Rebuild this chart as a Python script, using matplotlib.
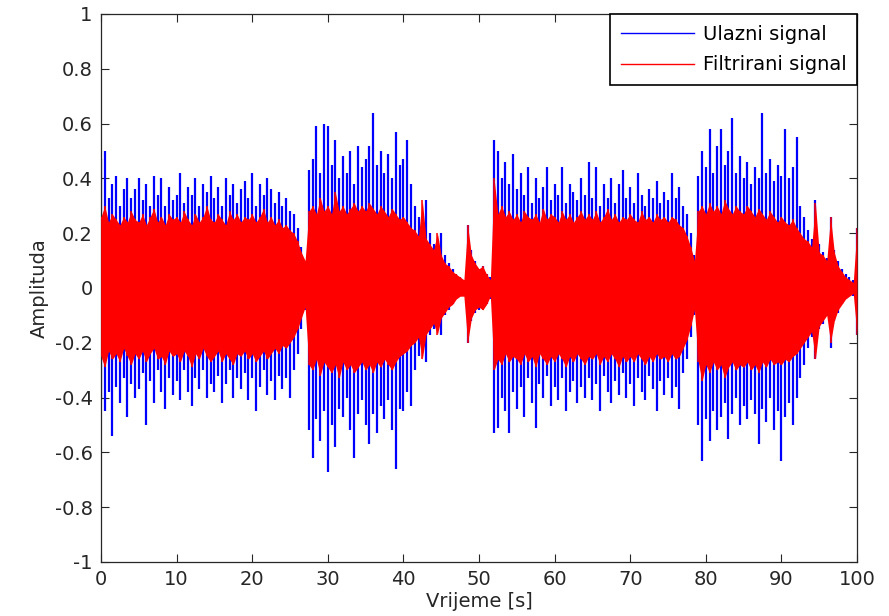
import numpy as np
import matplotlib
matplotlib.use('Agg')
import matplotlib.pyplot as plt
from matplotlib.lines import Line2D

# Time axis, one reading every 0.5 s (0 ... 100 s).
time_s = np.linspace(0, 100, 201)

# Input signal: peak values.
ulaz_max = [
    0.47, 0.50, 0.33, 0.38, 0.41, 0.30, 0.36, 0.40, 0.33, 0.36,
    0.40, 0.32, 0.38, 0.30, 0.41, 0.34, 0.40, 0.30, 0.37, 0.32,
    0.34, 0.42, 0.31, 0.37, 0.34, 0.40, 0.30, 0.38, 0.35, 0.41,
    0.33, 0.37, 0.30, 0.40, 0.34, 0.38, 0.31, 0.36, 0.39, 0.33,
    0.42, 0.30, 0.38, 0.34, 0.40, 0.36, 0.31, 0.35, 0.30, 0.33,
    0.28, 0.27, 0.22, 0.15, 0.10, 0.43, 0.47, 0.59, 0.42, 0.60,
    0.59, 0.45, 0.54, 0.40, 0.48, 0.42, 0.50, 0.38, 0.52, 0.44,
    0.47, 0.52, 0.64, 0.45, 0.50, 0.42, 0.49, 0.40, 0.57, 0.45,
    0.47, 0.54, 0.38, 0.30, 0.26, 0.22, 0.32, 0.20, 0.16, 0.13,
    0.20, 0.12, 0.09, 0.07, 0.05, 0.04, 0.03, 0.23, 0.14, 0.10,
    0.07, 0.08, 0.05, 0.04, 0.54, 0.50, 0.40, 0.46, 0.38, 0.49,
    0.36, 0.42, 0.34, 0.44, 0.31, 0.40, 0.33, 0.37, 0.44, 0.32,
    0.38, 0.34, 0.44, 0.31, 0.38, 0.35, 0.32, 0.40, 0.34, 0.46,
    0.33, 0.44, 0.30, 0.38, 0.33, 0.40, 0.31, 0.38, 0.43, 0.33,
    0.37, 0.31, 0.42, 0.34, 0.30, 0.36, 0.33, 0.39, 0.31, 0.35,
    0.32, 0.42, 0.33, 0.37, 0.30, 0.27, 0.20, 0.12, 0.41, 0.50,
    0.44, 0.58, 0.42, 0.52, 0.58, 0.45, 0.50, 0.62, 0.42, 0.48,
    0.40, 0.46, 0.38, 0.44, 0.40, 0.64, 0.42, 0.47, 0.39, 0.45,
    0.41, 0.58, 0.40, 0.44, 0.55, 0.30, 0.26, 0.21, 0.18, 0.32,
    0.16, 0.13, 0.11, 0.26, 0.14, 0.10, 0.07, 0.05, 0.04, 0.03,
    0.22,
]
ulaz_min = [
    -0.40, -0.45, -0.38, -0.54, -0.36, -0.42, -0.33, -0.47, -0.35, -0.40,
    -0.37, -0.31, -0.50, -0.34, -0.42, -0.30, -0.38, -0.44, -0.33, -0.39,
    -0.34, -0.41, -0.30, -0.38, -0.43, -0.33, -0.37, -0.30, -0.40, -0.35,
    -0.38, -0.32, -0.42, -0.35, -0.30, -0.40, -0.33, -0.37, -0.31, -0.41,
    -0.33, -0.45, -0.36, -0.30, -0.39, -0.34, -0.41, -0.32, -0.37, -0.33,
    -0.40, -0.30, -0.24, -0.15, -0.08, -0.52, -0.62, -0.48, -0.56, -0.45,
    -0.67, -0.50, -0.58, -0.44, -0.47, -0.40, -0.52, -0.62, -0.46, -0.41,
    -0.50, -0.57, -0.46, -0.53, -0.43, -0.48, -0.41, -0.52, -0.66, -0.44,
    -0.45, -0.38, -0.43, -0.30, -0.25, -0.20, -0.27, -0.17, -0.15, -0.12,
    -0.17, -0.10, -0.08, -0.06, -0.04, -0.03, -0.02, -0.20, -0.12, -0.09,
    -0.08, -0.07, -0.06, -0.04, -0.53, -0.51, -0.40, -0.45, -0.53, -0.38,
    -0.44, -0.36, -0.47, -0.33, -0.42, -0.51, -0.35, -0.40, -0.32, -0.43,
    -0.36, -0.41, -0.33, -0.45, -0.38, -0.34, -0.42, -0.36, -0.40, -0.33,
    -0.41, -0.35, -0.45, -0.32, -0.38, -0.42, -0.34, -0.39, -0.31, -0.40,
    -0.35, -0.43, -0.33, -0.38, -0.41, -0.32, -0.37, -0.45, -0.34, -0.39,
    -0.33, -0.40, -0.36, -0.44, -0.31, -0.26, -0.18, -0.10, -0.50, -0.63,
    -0.48, -0.56, -0.45, -0.52, -0.47, -0.42, -0.55, -0.46, -0.40, -0.50,
    -0.43, -0.48, -0.41, -0.46, -0.57, -0.44, -0.49, -0.40, -0.52, -0.45,
    -0.63, -0.47, -0.42, -0.50, -0.40, -0.33, -0.28, -0.22, -0.18, -0.26,
    -0.15, -0.13, -0.10, -0.22, -0.12, -0.09, -0.06, -0.04, -0.03, -0.03,
    -0.17,
]

# Filtered signal: envelope.
filt_max = [
    0.26, 0.30, 0.24, 0.27, 0.25, 0.23, 0.26, 0.24, 0.28, 0.25,
    0.24, 0.27, 0.23, 0.26, 0.29, 0.24, 0.26, 0.23, 0.27, 0.25,
    0.26, 0.24, 0.28, 0.25, 0.23, 0.27, 0.24, 0.26, 0.30, 0.25,
    0.24, 0.27, 0.25, 0.23, 0.28, 0.25, 0.27, 0.24, 0.26, 0.25,
    0.27, 0.24, 0.26, 0.29, 0.24, 0.26, 0.23, 0.25, 0.22, 0.23,
    0.21, 0.20, 0.17, 0.13, 0.10, 0.28, 0.30, 0.27, 0.33, 0.28,
    0.30, 0.27, 0.35, 0.28, 0.30, 0.27, 0.29, 0.31, 0.28, 0.30,
    0.28, 0.31, 0.29, 0.27, 0.30, 0.28, 0.26, 0.29, 0.27, 0.25,
    0.26, 0.24, 0.22, 0.21, 0.19, 0.32, 0.18, 0.16, 0.14, 0.20,
    0.12, 0.09, 0.08, 0.06, 0.05, 0.04, 0.03, 0.23, 0.12, 0.09,
    0.07, 0.08, 0.05, 0.03, 0.40, 0.27, 0.30, 0.26, 0.28, 0.25,
    0.27, 0.24, 0.28, 0.26, 0.25, 0.27, 0.24, 0.29, 0.25, 0.27,
    0.26, 0.24, 0.28, 0.25, 0.27, 0.24, 0.26, 0.28, 0.25, 0.27,
    0.25, 0.28, 0.24, 0.26, 0.29, 0.25, 0.27, 0.24, 0.26, 0.25,
    0.27, 0.25, 0.24, 0.28, 0.25, 0.26, 0.24, 0.27, 0.25, 0.26,
    0.24, 0.26, 0.25, 0.23, 0.22, 0.19, 0.15, 0.10, 0.28, 0.30,
    0.27, 0.31, 0.28, 0.30, 0.27, 0.32, 0.29, 0.27, 0.30, 0.28,
    0.27, 0.30, 0.28, 0.26, 0.29, 0.27, 0.25, 0.28, 0.26, 0.24,
    0.26, 0.24, 0.23, 0.25, 0.22, 0.20, 0.18, 0.17, 0.15, 0.31,
    0.13, 0.12, 0.10, 0.26, 0.13, 0.08, 0.06, 0.04, 0.03, 0.02,
    0.22,
]
filt_min = [
    -0.25, -0.29, -0.23, -0.26, -0.24, -0.27, -0.22, -0.25, -0.28, -0.24,
    -0.26, -0.23, -0.27, -0.24, -0.22, -0.26, -0.25, -0.28, -0.23, -0.25,
    -0.24, -0.27, -0.23, -0.25, -0.29, -0.24, -0.26, -0.22, -0.25, -0.27,
    -0.25, -0.23, -0.27, -0.24, -0.26, -0.28, -0.24, -0.25, -0.23, -0.26,
    -0.24, -0.27, -0.25, -0.23, -0.26, -0.24, -0.22, -0.24, -0.21, -0.22,
    -0.20, -0.18, -0.15, -0.11, -0.07, -0.28, -0.30, -0.26, -0.32, -0.27,
    -0.29, -0.31, -0.28, -0.33, -0.27, -0.30, -0.28, -0.31, -0.29, -0.27,
    -0.30, -0.28, -0.31, -0.27, -0.29, -0.26, -0.28, -0.30, -0.27, -0.25,
    -0.24, -0.23, -0.21, -0.20, -0.18, -0.26, -0.17, -0.15, -0.13, -0.17,
    -0.11, -0.09, -0.07, -0.06, -0.04, -0.03, -0.03, -0.20, -0.11, -0.08,
    -0.07, -0.08, -0.06, -0.03, -0.30, -0.26, -0.28, -0.24, -0.27, -0.25,
    -0.26, -0.28, -0.24, -0.27, -0.25, -0.29, -0.24, -0.26, -0.28, -0.25,
    -0.27, -0.24, -0.26, -0.29, -0.25, -0.27, -0.24, -0.26, -0.28, -0.25,
    -0.26, -0.24, -0.28, -0.25, -0.27, -0.24, -0.26, -0.29, -0.25, -0.27,
    -0.25, -0.27, -0.24, -0.26, -0.28, -0.25, -0.27, -0.24, -0.26, -0.25,
    -0.27, -0.24, -0.26, -0.25, -0.22, -0.19, -0.14, -0.08, -0.27, -0.34,
    -0.28, -0.31, -0.27, -0.30, -0.28, -0.33, -0.29, -0.27, -0.30, -0.28,
    -0.29, -0.27, -0.30, -0.28, -0.31, -0.27, -0.29, -0.26, -0.28, -0.27,
    -0.28, -0.26, -0.27, -0.25, -0.24, -0.22, -0.20, -0.18, -0.16, -0.26,
    -0.14, -0.12, -0.10, -0.20, -0.12, -0.08, -0.06, -0.04, -0.03, -0.02,
    -0.17,
]

x_ticks = [0, 10, 20, 30, 40, 50, 60, 70, 80, 90, 100]
y_ticks = [-1, -0.8, -0.6, -0.4, -0.2, 0, 0.2, 0.4, 0.6, 0.8, 1]
y_tick_labels = ['-1', '-0.8', '-0.6', '-0.4', '-0.2', '0',
                 '0.2', '0.4', '0.6', '0.8', '1']

plt.rcParams['font.family'] = ['DejaVu Sans']
plt.rcParams['font.size'] = 14

fig = plt.figure(figsize=(8.89, 6.16), dpi=100)
ax = fig.add_axes([0.1136, 0.0877, 0.8504, 0.8896])

# Input signal (blue) behind the filtered one (red).
ax.vlines(time_s, ulaz_min, ulaz_max, color=(0, 0, 1), linewidth=1.6, zorder=2)
ax.vlines(time_s, filt_min, filt_max, color=(1, 0, 0), linewidth=1.1, zorder=3)
ax.fill_between(time_s, filt_min, filt_max, color=(1, 0, 0),
                linewidth=0, zorder=3)

ax.set_xlim(0, 100)
ax.set_ylim(-1, 1)
ax.set_xticks(x_ticks)
ax.set_yticks(y_ticks)
ax.set_yticklabels(y_tick_labels)
ax.tick_params(direction='in', length=5.5, width=0.8, top=True, right=True,
               pad=6, colors='#262626', labelcolor='#262626')
for sp in ax.spines.values():
    sp.set_linewidth(0.9)
    sp.set_color('#262626')

ax.set_xlabel('Vrijeme [s]', labelpad=2, color='#262626')
ax.set_ylabel('Amplituda', labelpad=4, color='#262626')

handles = [Line2D([], [], color=(0, 0, 1), linewidth=1),
           Line2D([], [], color=(1, 0, 0), linewidth=1)]
leg = ax.legend(handles, ['Ulazni signal', 'Filtrirani signal'],
                loc='upper right', borderaxespad=0, fancybox=False,
                framealpha=1, edgecolor='black', handlelength=3.75,
                handletextpad=0.45, labelspacing=0.6, borderpad=0.55)
leg.get_frame().set_linewidth(1.2)
leg.set_zorder(5)

fig.savefig('out.png', dpi=100)
